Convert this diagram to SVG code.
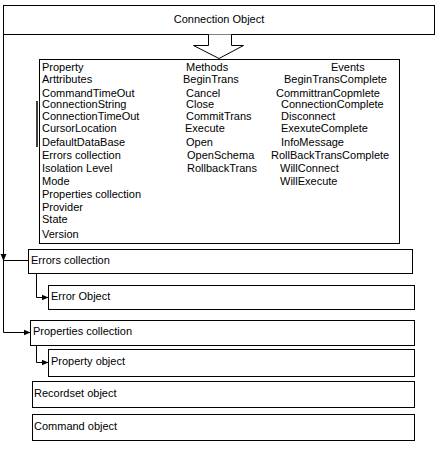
<svg xmlns="http://www.w3.org/2000/svg" width="440" height="449" viewBox="0 0 440 449">
<defs>
<marker id="ah" markerWidth="8" markerHeight="8" refX="7" refY="4" orient="auto" markerUnits="userSpaceOnUse">
<path d="M0,1 L7,4 L0,7 Z" fill="#000"/>
</marker>
<style>
.box{fill:#fff;stroke:#000;stroke-width:1}
.t{font-family:"Liberation Sans",Arial,sans-serif;font-size:11px;fill:#000}
.c{fill:none;stroke:#000;stroke-width:1}
</style>
</defs>
<rect width="440" height="449" fill="#fff"/>
<g id="connection-object">
<rect class="box" x="3.5" y="5.5" width="431" height="29"/>
<text class="t" x="219" y="23" text-anchor="middle">Connection Object</text>
</g>
<g id="block-arrow">
<path class="box" d="M208.5,34.5 V45.5 H193.5 L219,58.5 L243.5,45.5 H231.5 V34.5"/>
</g>
<g id="main-box">
<rect class="box" x="39.5" y="59.5" width="360" height="184"/>
<line x1="37" y1="101" x2="37" y2="147" stroke="#000" stroke-width="1.5"/>
<text class="t" x="42" y="71">Property</text>
<text class="t" x="42" y="83">Arttributes</text>
<text class="t" x="42" y="97">CommandTimeOut</text>
<text class="t" x="42" y="107.5">ConnectionString</text>
<text class="t" x="42" y="120">ConnectionTimeOut</text>
<text class="t" x="42" y="132">CursorLocation</text>
<text class="t" x="42" y="146">DefaultDataBase</text>
<text class="t" x="42" y="158.5">Errors collection</text>
<text class="t" x="42" y="172">Isolation Level</text>
<text class="t" x="42" y="185">Mode</text>
<text class="t" x="42" y="198">Properties collection</text>
<text class="t" x="42" y="211">Provider</text>
<text class="t" x="42" y="223">State</text>
<text class="t" x="42" y="238">Version</text>
<text class="t" x="186" y="71">Methods</text>
<text class="t" x="183" y="83">BeginTrans</text>
<text class="t" x="186" y="97">Cancel</text>
<text class="t" x="186" y="107.5">Close</text>
<text class="t" x="186" y="120">CommitTrans</text>
<text class="t" x="185" y="132">Execute</text>
<text class="t" x="186" y="146">Open</text>
<text class="t" x="187" y="158.5">OpenSchema</text>
<text class="t" x="187" y="172">RollbackTrans</text>
<text class="t" x="331" y="71">Events</text>
<text class="t" x="284" y="83">BeginTransComplete</text>
<text class="t" x="276" y="97">CommittranCopmlete</text>
<text class="t" x="281" y="107.5">ConnectionComplete</text>
<text class="t" x="281" y="120">Disconnect</text>
<text class="t" x="281" y="132">ExexuteComplete</text>
<text class="t" x="281" y="146">InfoMessage</text>
<text class="t" x="271" y="158.5">RollBackTransComplete</text>
<text class="t" x="280" y="172">WillConnect</text>
<text class="t" x="280" y="185">WillExecute</text>
</g>
<g id="errors-collection">
<rect class="box" x="28.5" y="249.5" width="384" height="24"/>
<text class="t" x="31" y="264">Errors collection</text>
</g>
<g id="error-object">
<rect class="box" x="48.5" y="285.5" width="366" height="24"/>
<text class="t" x="51" y="300">Error Object</text>
</g>
<g id="properties-collection">
<rect class="box" x="30.5" y="320.5" width="384" height="25"/>
<text class="t" x="33" y="335">Properties collection</text>
</g>
<g id="property-object">
<rect class="box" x="48.5" y="349.5" width="366" height="27"/>
<text class="t" x="51" y="365">Property object</text>
</g>
<g id="recordset-object">
<rect class="box" x="32.5" y="381.5" width="382" height="26"/>
<text class="t" x="34" y="397">Recordset object</text>
</g>
<g id="command-object">
<rect class="box" x="32.5" y="414.5" width="382" height="26"/>
<text class="t" x="34" y="430">Command object</text>
</g>
<g id="connectors">
<path class="c" d="M3.5,34.5 V261" marker-end="url(#ah)"/>
<path class="c" d="M28.5,260.5 H3.5"/>
<path class="c" d="M3.5,260.5 V332.5 H30.5" marker-end="url(#ah)"/>
<path class="c" d="M36.5,273.5 V297.5 H48.5" marker-end="url(#ah)"/>
<path class="c" d="M36.5,345.5 V362.5 H48.5" marker-end="url(#ah)"/>
</g>
</svg>
